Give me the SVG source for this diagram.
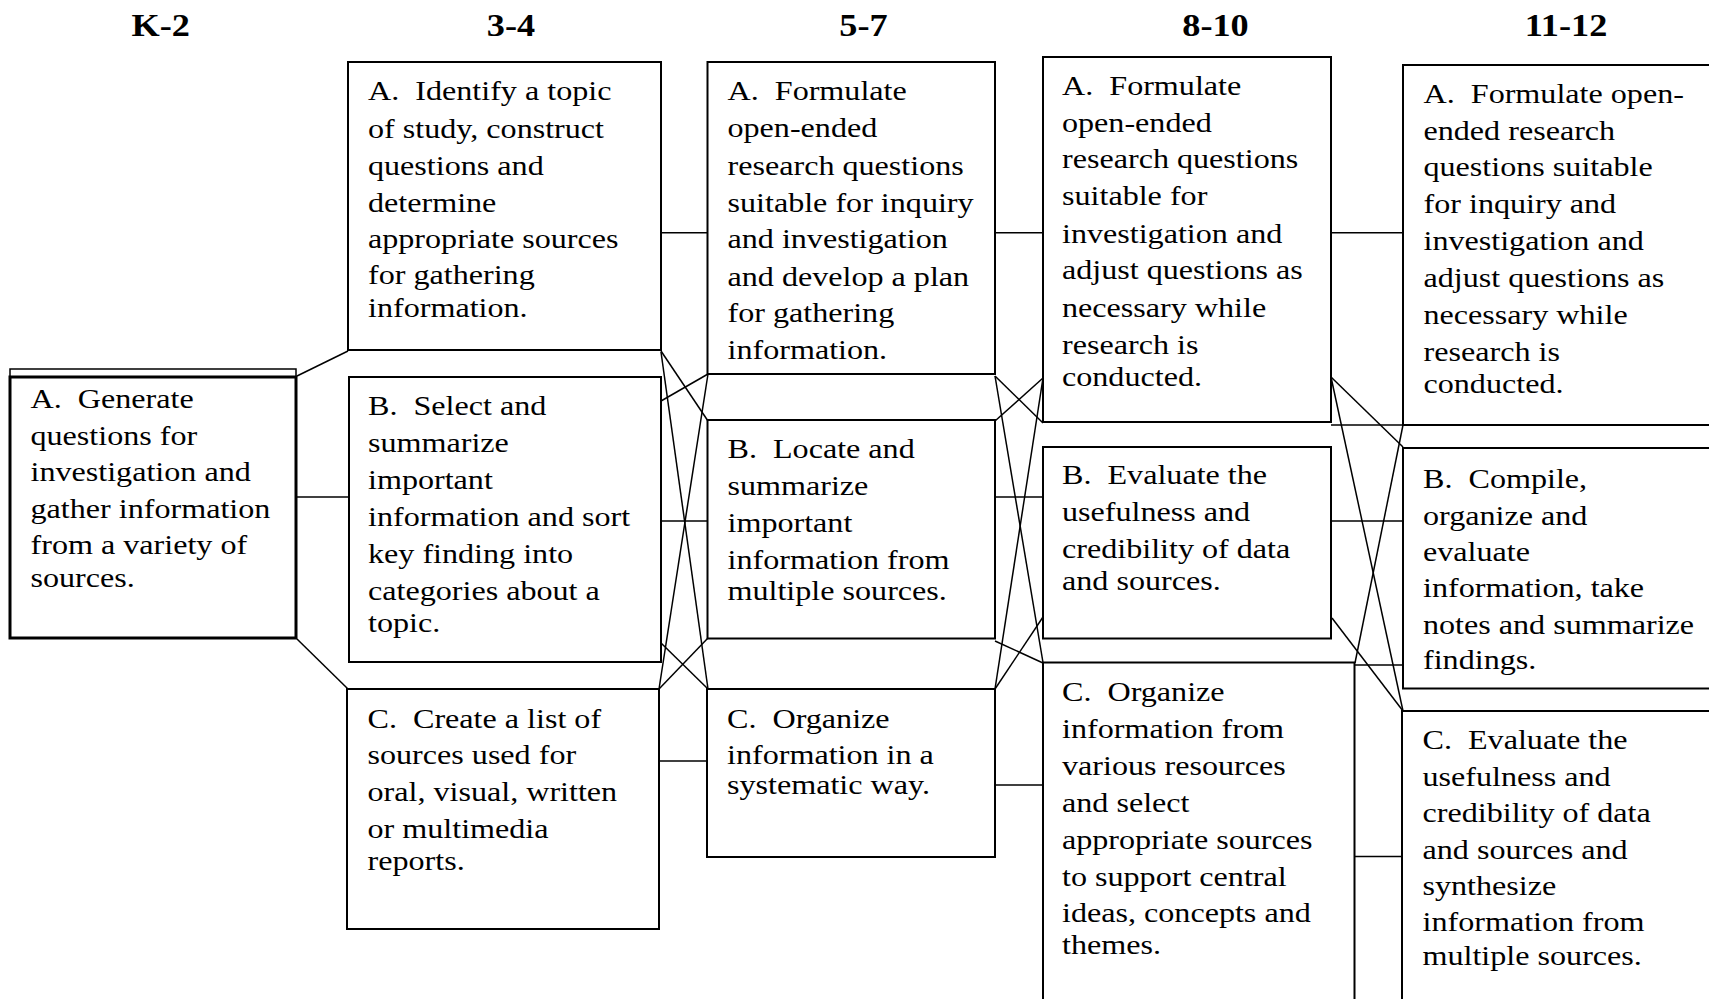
<svg xmlns="http://www.w3.org/2000/svg" width="1709" height="999" viewBox="0 0 1709 999" xml:space="preserve">
<style>
.box{fill:#fff;stroke:#000;stroke-width:2}
.kbox{fill:#fff;stroke:#000;stroke-width:3}
.thin{fill:none;stroke:#000;stroke-width:1.5}
.cn{fill:none;stroke:#000;stroke-width:1.5}
.t{font-family:"Liberation Serif","Times New Roman",serif;font-size:27px;fill:#000;white-space:pre}
.h{font-family:"Liberation Serif","Times New Roman",serif;font-size:31px;font-weight:bold;fill:#000;text-anchor:middle}
</style>
<rect width="1709" height="999" fill="#fff"/>
<g id="headings">
<text class="h" transform="translate(160.7 0) scale(1.17 1)" x="0" y="36">K-2</text>
<text class="h" transform="translate(511 0) scale(1.17 1)" x="0" y="36">3-4</text>
<text class="h" transform="translate(863.5 0) scale(1.17 1)" x="0" y="36">5-7</text>
<text class="h" transform="translate(1215.5 0) scale(1.17 1)" x="0" y="36">8-10</text>
<text class="h" transform="translate(1566 0) scale(1.17 1)" x="0" y="36">11-12</text>
</g>
<g id="connectors">
<path class="cn" d="M297,376 L348,351"/>
<path class="cn" d="M296,497 H348"/>
<path class="cn" d="M297,639 L348,689"/>
<path class="cn" d="M661,232.7 H708"/>
<path class="cn" d="M661,351 L708,421"/>
<path class="cn" d="M661,352 L708,689"/>
<path class="cn" d="M661,401 L708,374"/>
<path class="cn" d="M661,521 H708"/>
<path class="cn" d="M660,642 L708,689"/>
<path class="cn" d="M659,689 L708,374"/>
<path class="cn" d="M659,689 L708,638"/>
<path class="cn" d="M659,761 H707"/>
<path class="cn" d="M995,232.7 H1043"/>
<path class="cn" d="M995,376 L1043,423"/>
<path class="cn" d="M995,376 L1043,662.5"/>
<path class="cn" d="M995,421 L1043,378"/>
<path class="cn" d="M995,497 H1043"/>
<path class="cn" d="M995,641 L1043,663"/>
<path class="cn" d="M995,689 L1043,378"/>
<path class="cn" d="M995,689 L1043,617"/>
<path class="cn" d="M995,785 H1043"/>
<path class="cn" d="M1331,232.7 H1403"/>
<path class="cn" d="M1331,377 L1403,447"/>
<path class="cn" d="M1331,377 L1403,711"/>
<path class="cn" d="M1403,425 L1355,663"/>
<path class="cn" d="M1331,521 H1403"/>
<path class="cn" d="M1332,618 L1403,711"/>
<path class="cn" d="M1355,665 H1403"/>
<path class="cn" d="M1355,856.5 H1403"/>
<path class="cn" d="M1331,425 H1403"/>
</g>
<g id="k2-a">
<path class="thin" d="M10,520 V369 H296 V377"/>
<rect class="kbox" x="10" y="377" width="286" height="261"/>
<text class="t" transform="translate(30.5 0) scale(1.19 1)"><tspan x="0" y="408">A.  Generate</tspan><tspan x="0" y="445">questions for</tspan><tspan x="0" y="481.5">investigation and</tspan><tspan x="0" y="518">gather information</tspan><tspan x="0" y="554.5">from a variety of</tspan><tspan x="0" y="587">sources.</tspan></text>
</g>
<g id="g34-a">
<rect class="box" x="348" y="62" width="313" height="288"/>
<text class="t" transform="translate(368 0) scale(1.19 1)"><tspan x="0" y="100">A.  Identify a topic</tspan><tspan x="0" y="138">of study, construct</tspan><tspan x="0" y="175">questions and</tspan><tspan x="0" y="211.7">determine</tspan><tspan x="0" y="248.3">appropriate sources</tspan><tspan x="0" y="284.5">for gathering</tspan><tspan x="0" y="316.7">information.</tspan></text>
</g>
<g id="g34-b">
<rect class="box" x="349" y="377" width="312" height="285"/>
<text class="t" transform="translate(368 0) scale(1.19 1)"><tspan x="0" y="415">B.  Select and</tspan><tspan x="0" y="452">summarize</tspan><tspan x="0" y="489">important</tspan><tspan x="0" y="526">information and sort</tspan><tspan x="0" y="563">key finding into</tspan><tspan x="0" y="600">categories about a</tspan><tspan x="0" y="632">topic.</tspan></text>
</g>
<g id="g34-c">
<rect class="box" x="347" y="689" width="312" height="240"/>
<text class="t" transform="translate(367.5 0) scale(1.19 1)"><tspan x="0" y="728">C.  Create a list of</tspan><tspan x="0" y="764">sources used for</tspan><tspan x="0" y="801">oral, visual, written</tspan><tspan x="0" y="837.8">or multimedia</tspan><tspan x="0" y="870">reports.</tspan></text>
</g>
<g id="g57-a">
<rect class="box" x="707.5" y="62" width="287.5" height="312"/>
<text class="t" transform="translate(727.5 0) scale(1.19 1)"><tspan x="0" y="100">A.  Formulate</tspan><tspan x="0" y="137">open-ended</tspan><tspan x="0" y="175">research questions</tspan><tspan x="0" y="212">suitable for inquiry</tspan><tspan x="0" y="248.5">and investigation</tspan><tspan x="0" y="285.5">and develop a plan</tspan><tspan x="0" y="322.5">for gathering</tspan><tspan x="0" y="359.5">information.</tspan></text>
</g>
<g id="g57-b">
<rect class="box" x="707.5" y="420" width="287.5" height="218.5"/>
<text class="t" transform="translate(727.5 0) scale(1.19 1)"><tspan x="0" y="458">B.  Locate and</tspan><tspan x="0" y="495">summarize</tspan><tspan x="0" y="532">important</tspan><tspan x="0" y="569">information from</tspan><tspan x="0" y="600.5">multiple sources.</tspan></text>
</g>
<g id="g57-c">
<rect class="box" x="707" y="689" width="288" height="168"/>
<text class="t" transform="translate(727 0) scale(1.19 1)"><tspan x="0" y="728">C.  Organize</tspan><tspan x="0" y="764">information in a</tspan><tspan x="0" y="794.5">systematic way.</tspan></text>
</g>
<g id="g810-a">
<rect class="box" x="1043" y="57" width="288" height="365"/>
<text class="t" transform="translate(1062 0) scale(1.19 1)"><tspan x="0" y="95">A.  Formulate</tspan><tspan x="0" y="131.7">open-ended</tspan><tspan x="0" y="168.5">research questions</tspan><tspan x="0" y="205.5">suitable for</tspan><tspan x="0" y="242.7">investigation and</tspan><tspan x="0" y="279.5">adjust questions as</tspan><tspan x="0" y="316.8">necessary while</tspan><tspan x="0" y="353.7">research is</tspan><tspan x="0" y="386">conducted.</tspan></text>
</g>
<g id="g810-b">
<rect class="box" x="1043" y="447" width="288" height="191.5"/>
<text class="t" transform="translate(1062 0) scale(1.19 1)"><tspan x="0" y="484">B.  Evaluate the</tspan><tspan x="0" y="521">usefulness and</tspan><tspan x="0" y="558">credibility of data</tspan><tspan x="0" y="590">and sources.</tspan></text>
</g>
<g id="g810-c">
<rect class="box" x="1043" y="662.5" width="311.5" height="360"/>
<text class="t" transform="translate(1062 0) scale(1.19 1)"><tspan x="0" y="701">C.  Organize</tspan><tspan x="0" y="738">information from</tspan><tspan x="0" y="775">various resources</tspan><tspan x="0" y="812">and select</tspan><tspan x="0" y="849">appropriate sources</tspan><tspan x="0" y="886">to support central</tspan><tspan x="0" y="922">ideas, concepts and</tspan><tspan x="0" y="954">themes.</tspan></text>
</g>
<g id="g1112-a">
<rect class="box" x="1403" y="65" width="330" height="360"/>
<text class="t" transform="translate(1423.5 0) scale(1.19 1)"><tspan x="0" y="103.5">A.  Formulate open-</tspan><tspan x="0" y="140">ended research</tspan><tspan x="0" y="176.5">questions suitable</tspan><tspan x="0" y="213.3">for inquiry and</tspan><tspan x="0" y="250.2">investigation and</tspan><tspan x="0" y="287">adjust questions as</tspan><tspan x="0" y="324">necessary while</tspan><tspan x="0" y="361">research is</tspan><tspan x="0" y="393.3">conducted.</tspan></text>
</g>
<g id="g1112-b">
<rect class="box" x="1403" y="448" width="330" height="240.5"/>
<text class="t" transform="translate(1423 0) scale(1.19 1)"><tspan x="0" y="488.5">B.  Compile,</tspan><tspan x="0" y="525">organize and</tspan><tspan x="0" y="561.3">evaluate</tspan><tspan x="0" y="597.5">information, take</tspan><tspan x="0" y="634">notes and summarize</tspan><tspan x="0" y="669">findings.</tspan></text>
</g>
<g id="g1112-c">
<rect class="box" x="1402" y="711" width="330" height="310"/>
<text class="t" transform="translate(1422.5 0) scale(1.19 1)"><tspan x="0" y="749.5">C.  Evaluate the</tspan><tspan x="0" y="786">usefulness and</tspan><tspan x="0" y="822">credibility of data</tspan><tspan x="0" y="859">and sources and</tspan><tspan x="0" y="895">synthesize</tspan><tspan x="0" y="931.5">information from</tspan><tspan x="0" y="965.5">multiple sources.</tspan></text>
</g>
</svg>
